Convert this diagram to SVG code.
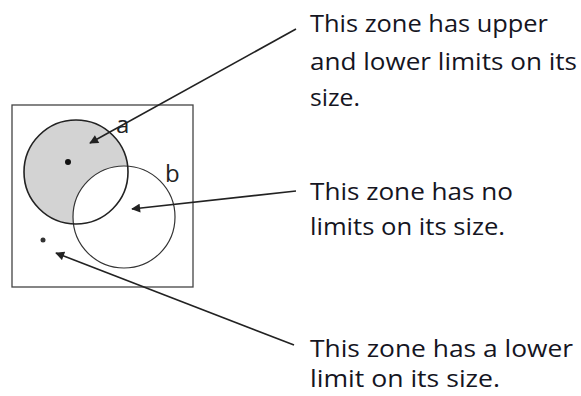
<svg xmlns="http://www.w3.org/2000/svg" width="581" height="396" viewBox="0 0 581 396">
<style>
.t{font-family:"Open Sans","DejaVu Sans",sans-serif;font-size:23px;fill:#15151f}
.lbl{font-family:"Open Sans","DejaVu Sans",sans-serif;font-size:24px;fill:#222}
.c{stroke:#222;stroke-width:1.6;fill:none}
</style>
<defs>
<marker id="ah" viewBox="0 0 10 10" refX="9" refY="5" markerWidth="10" markerHeight="9" markerUnits="userSpaceOnUse" orient="auto">
<path d="M0,0 L10,5 L0,10 z" fill="#222"/>
</marker>
</defs>
<rect width="581" height="396" fill="#fff"/>
<g id="box"><rect x="12" y="105" width="181" height="182" fill="none" stroke="#444" stroke-width="1.3"/></g>
<g id="zone-a"><circle cx="76" cy="172" r="52" fill="#d3d3d3"/></g>
<g id="zone-b"><circle cx="124" cy="217" r="51" fill="#fff" stroke="#333" stroke-width="1.2"/>
<text class="lbl" x="165" y="182">b</text></g>
<g id="zone-a-outline"><circle cx="76" cy="172" r="52" fill="none" stroke="#222" stroke-width="1.6"/>
<circle cx="68" cy="162" r="3" fill="#111"/>
<text class="lbl" x="116" y="133">a</text></g>
<g id="outside"><circle cx="43" cy="240" r="2.5" fill="#333"/></g>
<g id="connectors" class="c">
<line x1="296" y1="29" x2="90" y2="143" marker-end="url(#ah)"/>
<line x1="296" y1="191" x2="132" y2="209" marker-end="url(#ah)"/>
<line x1="294" y1="345" x2="56" y2="253" marker-end="url(#ah)"/>
</g>
<g id="note1"><text class="t" x="310" y="32" textLength="238" lengthAdjust="spacingAndGlyphs">This zone has upper</text><text class="t" x="310" y="70" textLength="267" lengthAdjust="spacingAndGlyphs">and lower limits on its</text><text class="t" x="310" y="106" textLength="50" lengthAdjust="spacingAndGlyphs">size.</text></g>
<g id="note2"><text class="t" x="310" y="200" textLength="203" lengthAdjust="spacingAndGlyphs">This zone has no</text><text class="t" x="310" y="235" textLength="195" lengthAdjust="spacingAndGlyphs">limits on its size.</text></g>
<g id="note3"><text class="t" x="310" y="357" textLength="263" lengthAdjust="spacingAndGlyphs">This zone has a lower</text><text class="t" x="310" y="387" textLength="190" lengthAdjust="spacingAndGlyphs">limit on its size.</text></g>
</svg>
